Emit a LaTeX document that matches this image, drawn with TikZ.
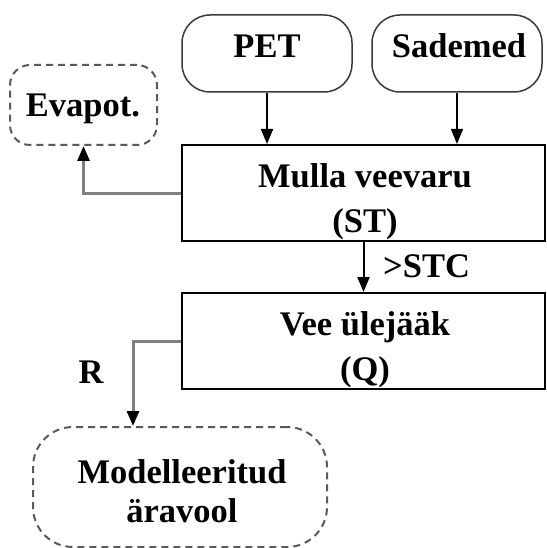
\documentclass[tikz,border=0pt]{standalone}
\usepackage{fontspec}
\setmainfont{Liberation Serif}
\usetikzlibrary{arrows.meta,calc}
\definecolor{edgegray}{HTML}{808080}
\definecolor{dashgray}{HTML}{5A5A5A}
\definecolor{rimgray}{HTML}{3A3A3A}
\begin{document}
\begin{tikzpicture}[x=1pt,y=-1pt,
  txt/.style={font=\fontsize{34.5}{45}\selectfont\bfseries, inner sep=0pt, align=center},
  inbox/.style={draw=rimgray, line width=1.5pt, rounded corners=28pt, inner sep=0pt},
  procbox/.style={draw=black, line width=2pt, inner sep=0pt},
  outbox/.style={draw=dashgray, line width=2pt, dash pattern=on 7pt off 5pt, inner sep=0pt},
  flow/.style={line width=2pt, -{Triangle[width=12pt,length=15pt]}},
  side/.style={draw=edgegray, line width=3pt, -{Triangle[width=12pt,length=15pt,color=black]}}]
\useasboundingbox (0,0) rectangle (546,548);
\fill[white] (0,0) rectangle (546,548);
% boxes
\node[inbox, minimum width=170, minimum height=77] (pet) at (267,53.5) {};
\node[txt, anchor=base] (petT) at (267,58) {PET};
\node[inbox, minimum width=170, minimum height=77] (sad) at (457,53.5) {};
\node[txt, anchor=base] (sadT) at (459,58) {Sademed};
\node[outbox, rounded corners=20pt, minimum width=147, minimum height=80] (evap) at (83.5,105) {};
\node[txt, anchor=base] (evapT) at (83,117) {Evapot.};
\node[procbox, minimum width=363, minimum height=96] (mulla) at (363.5,193) {};
\node[txt] (mullaT) at (365,201.7) {Mulla veevaru\\(ST)};
\node[procbox, minimum width=363, minimum height=96] (vee) at (363.5,341) {};
\node[txt] (veeT) at (365,350) {Vee ülejääk\\(Q)};
\node[outbox, rounded corners=40pt, minimum width=294, minimum height=120] (model) at (180,487) {};
\node[txt, font=\fontsize{34.5}{39}\selectfont\bfseries] (modelT) at (182,491) {Modelleeritud\\äravool};
% labels
\node[txt, anchor=base west] (stc) at (383,277) {>STC};
\node[txt, anchor=base] (rlab) at (91,383) {R};
% connectors
\draw[flow] (pet.south) -- (pet.south |- mulla.north);
\draw[flow, line width=1.3pt] (sad.south) -- (sad.south |- mulla.north);
\draw[flow] (mulla.south) -- (vee.north);
\draw[side] (mulla.west) -| (evap.south);
\draw[side] (vee.west) -| ([xshift=-47pt]model.north);
\end{tikzpicture}
\end{document}
